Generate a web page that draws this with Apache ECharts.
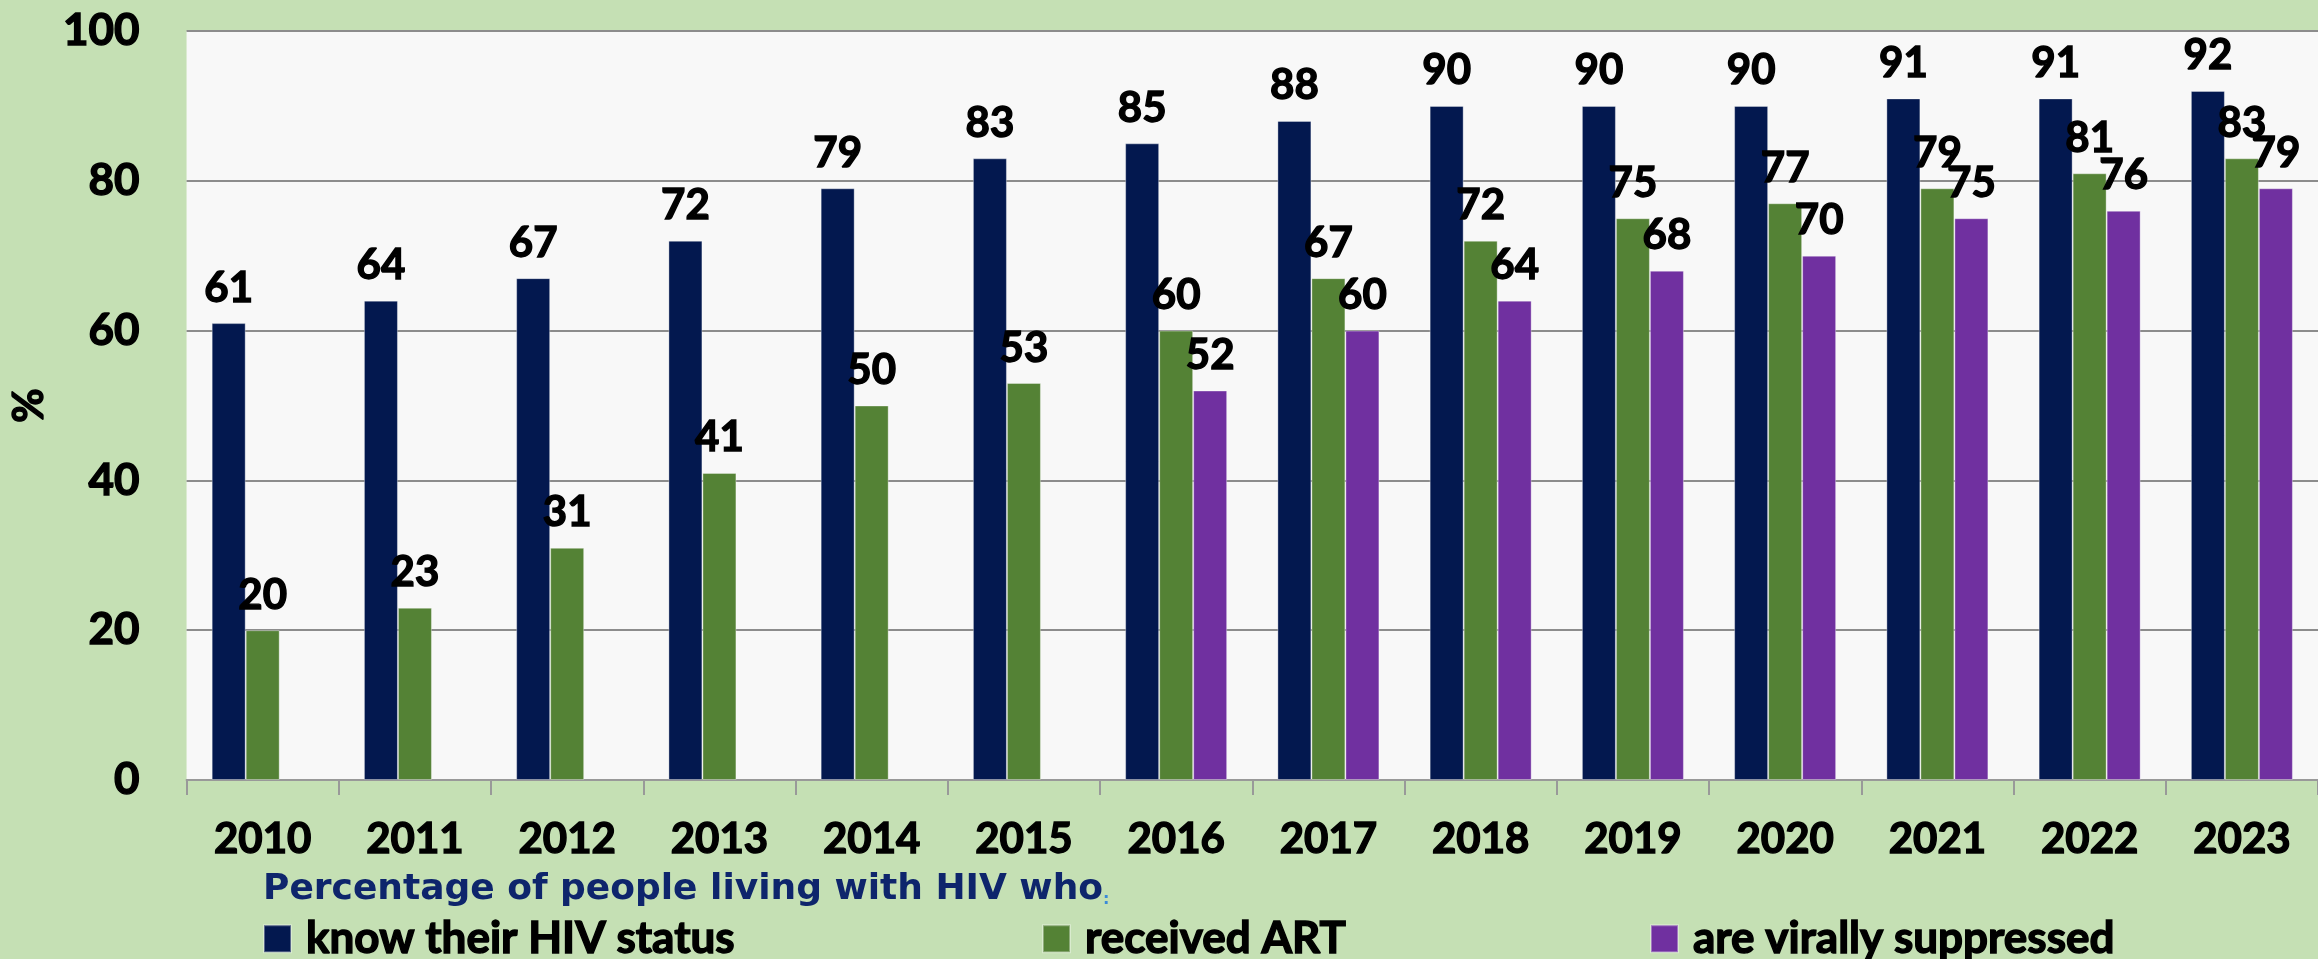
<!DOCTYPE html>
<html>
<head>
<meta charset="utf-8">
<title>HIV 90-90-90</title>
<script src="https://cdn.jsdelivr.net/npm/echarts@6/dist/echarts.min.js"></script>
<style>
  html, body { margin: 0; padding: 0; background: #c5e0b4; }
  #chart { width: 2318px; height: 959px; }
</style>
</head>
<body>
<div id="chart"></div>
<script>
// years on the x axis
const years = ['2010', '2011', '2012', '2013', '2014', '2015', '2016',
  '2017', '2018', '2019', '2020', '2021', '2022', '2023']

// % of people living with HIV who ...
const knowStatus = [61, 64, 67, 72, 79, 83, 85, 88, 90, 90, 90, 91, 91, 92]
const receivedArt = [20, 23, 31, 41, 50, 53, 60, 67, 72, 75, 77, 79, 81, 83]
const suppressed = [null, null, null, null, null, null, 52, 60, 64, 68, 70, 75, 76, 79]

const seriesNames = ['know their HIV status', 'received ART', 'are virally suppressed']
const yTicks = [0, 20, 40, 60, 80, 100]

// heavy black text, a thin stroke makes Lato look closer to Calibri bold
const boldFont = {
  fontFamily: 'Lato',
  fontWeight: 'bold',
  color: '#000',
  textBorderColor: '#000',
  textBorderWidth: 1.4
}

function barSeries(name, data, color) {
  return {
    name: name,
    type: 'bar',
    data: data,
    barWidth: 34,
    barGap: '0%',
    itemStyle: { color: color, borderColor: 'rgba(255,255,255,0.35)', borderWidth: 1 },
    label: {
      show: true,
      position: 'top',
      distance: 14,
      fontSize: 42,
      ...boldFont
    }
  }
}

function legendItem(name, left) {
  return {
    data: [name],
    left: left,
    top: 916,
    padding: 0,
    icon: 'rect',
    itemWidth: 27,
    itemHeight: 27,
    selectedMode: false,
    textStyle: { fontSize: 44, padding: [0, 0, 0, 10], ...boldFont }
  }
}

const chart = echarts.init(document.getElementById('chart'))

chart.setOption({
  backgroundColor: '#c5e0b4',
  animation: false,
  title: {
    left: 263,
    top: 872,
    padding: 0,
    text: '{t|Percentage of people living with HIV who}{c|:}',
    textStyle: {
      rich: {
        t: { fontFamily: 'DejaVu Sans', fontWeight: 'bold', fontSize: 36, color: '#0e256c' },
        c: { fontFamily: 'DejaVu Sans', fontSize: 16, color: '#3a8ad8', verticalAlign: 'bottom' }
      }
    }
  },
  legend: [
    legendItem(seriesNames[0], 263),
    legendItem(seriesNames[1], 1042),
    legendItem(seriesNames[2], 1650)
  ],
  grid: {
    left: 185,
    top: 31,
    width: 2151,
    bottom: 179,
    show: true,
    backgroundColor: '#f8f8f8',
    borderWidth: 0
  },
  xAxis: {
    type: 'category',
    data: years,
    axisLine: { lineStyle: { color: '#999', width: 2 } },
    axisTick: { show: true, length: 15, lineStyle: { color: '#999', width: 2 } },
    axisLabel: { fontSize: 42, margin: 38, ...boldFont }
  },
  yAxis: {
    type: 'value',
    min: yTicks[0],
    max: yTicks[yTicks.length - 1],
    interval: 20,
    name: '%',
    nameLocation: 'middle',
    nameGap: 132,
    nameTextStyle: { fontSize: 42, ...boldFont },
    axisLine: { show: false },
    axisTick: { show: false },
    axisLabel: { fontSize: 44, margin: 47, ...boldFont },
    splitLine: { lineStyle: { color: '#8c8c8c', width: 2 } }
  },
  series: [
    barSeries(seriesNames[0], knowStatus, '#03184f'),
    barSeries(seriesNames[1], receivedArt, '#548235'),
    barSeries(seriesNames[2], suppressed, '#7030a0')
  ]
})
</script>
</body>
</html>
